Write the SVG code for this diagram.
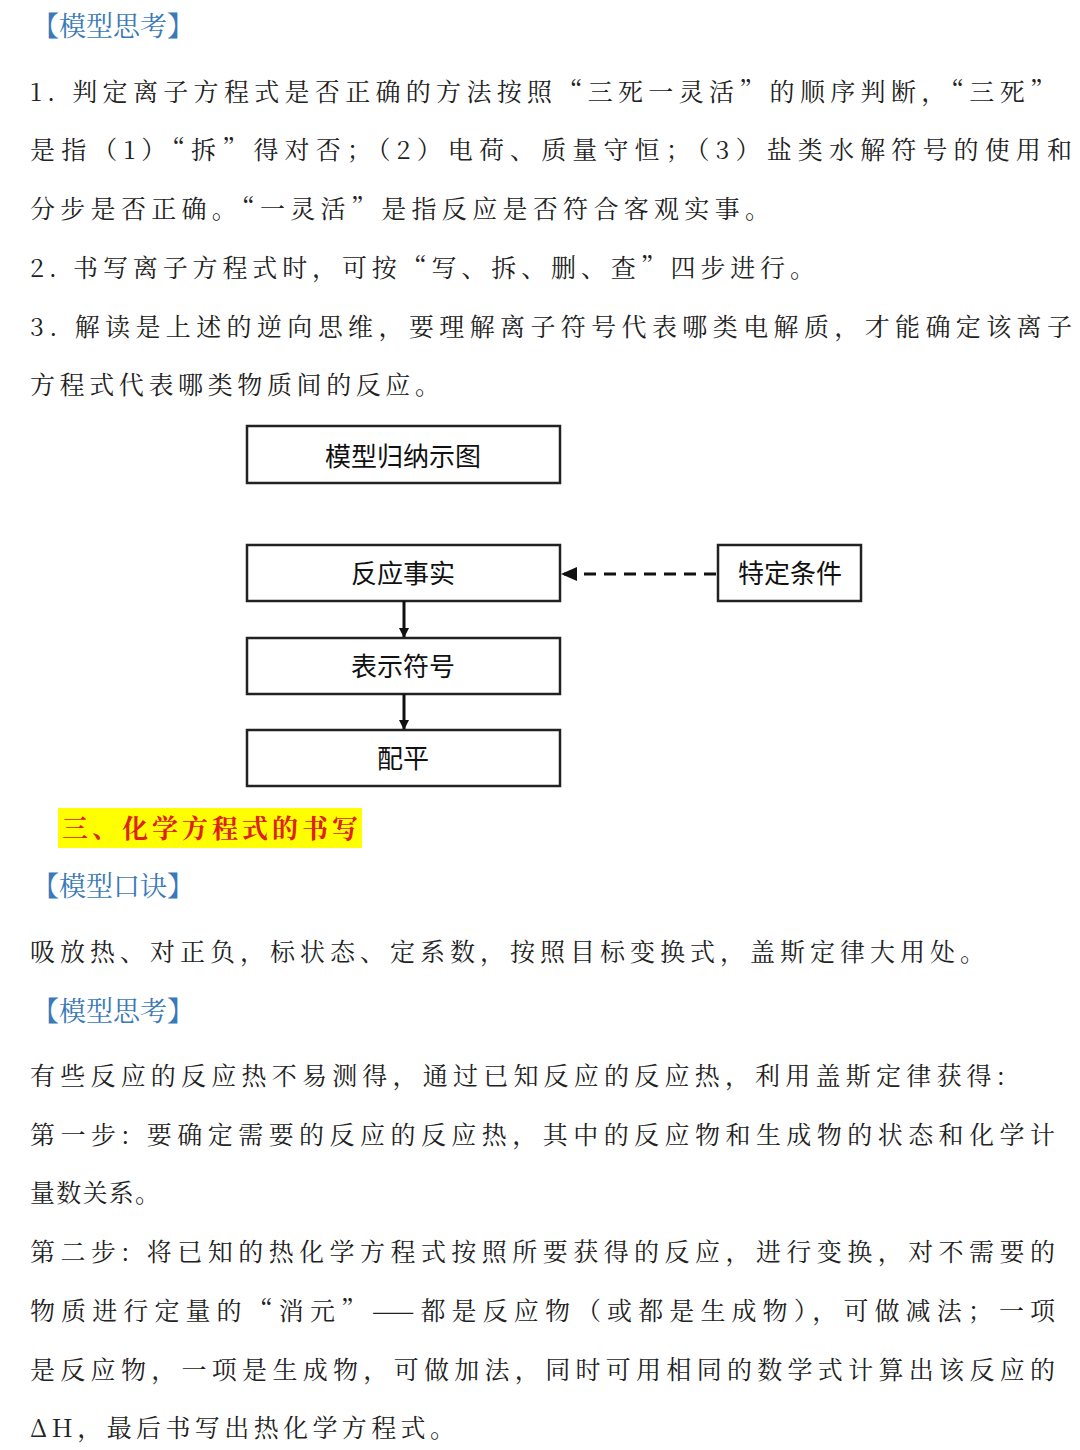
<svg xmlns="http://www.w3.org/2000/svg" width="1080" height="1450" viewBox="0 0 1080 1450">
<style>
.t{font-family:"Noto Serif CJK SC","Noto Sans CJK SC",serif;font-size:25px;fill:#222}
.h{font-family:"Noto Serif CJK SC","Noto Sans CJK SC",serif;font-size:27px;fill:#3a7ab8}
.b{fill:#fff;stroke:#222;stroke-width:2.5}
.n{font-family:"Noto Sans CJK SC",sans-serif;font-size:26px;fill:#111;text-anchor:middle}
</style>
<defs>
<marker id="a" markerWidth="10" markerHeight="10" refX="9" refY="5" orient="auto" markerUnits="userSpaceOnUse" viewBox="0 0 10 10"><path d="M0,0L10,5L0,10z" fill="#111"/></marker>
<marker id="b" markerWidth="16" markerHeight="14" refX="15" refY="7" orient="auto" markerUnits="userSpaceOnUse" viewBox="0 0 16 14"><path d="M0,0L16,7L0,14z" fill="#111"/></marker>
</defs>
<rect width="1080" height="1450" fill="#fff"/>
<text class="h" x="32" y="36">【模型思考】</text>
<text class="t" x="30" y="101" textLength="1025" lengthAdjust="spacing">1. 判定离子方程式是否正确的方法按照“三死一灵活”的顺序判断，“三死”</text>
<text class="t" x="30" y="159" textLength="1042" lengthAdjust="spacing">是指（1）“拆”得对否；（2）电荷、质量守恒；（3）盐类水解符号的使用和</text>
<text class="t" x="30" y="218" textLength="740" lengthAdjust="spacing">分步是否正确。“一灵活”是指反应是否符合客观实事。</text>
<text class="t" x="30" y="277" textLength="785" lengthAdjust="spacing">2. 书写离子方程式时，可按“写、拆、删、查”四步进行。</text>
<text class="t" x="30" y="336" textLength="1042" lengthAdjust="spacing">3. 解读是上述的逆向思维，要理解离子符号代表哪类电解质，才能确定该离子</text>
<text class="t" x="30" y="394" textLength="410" lengthAdjust="spacing">方程式代表哪类物质间的反应。</text>
<g id="title"><rect class="b" x="247" y="426" width="313" height="57"/><text class="n" x="403" y="466">模型归纳示图</text></g>
<g id="n1"><rect class="b" x="247" y="545" width="313" height="56"/><text class="n" x="403" y="583">反应事实</text></g>
<g id="n2"><rect class="b" x="247" y="638" width="313" height="56"/><text class="n" x="403" y="676">表示符号</text></g>
<g id="n3"><rect class="b" x="247" y="730" width="313" height="56"/><text class="n" x="403" y="768">配平</text></g>
<g id="n4"><rect class="b" x="718" y="545" width="143" height="56"/><text class="n" x="790" y="583">特定条件</text></g>
<g id="edges" stroke="#111" stroke-width="3" fill="none">
<line x1="404" y1="601" x2="404" y2="637" marker-end="url(#a)"/>
<line x1="404" y1="694" x2="404" y2="729" marker-end="url(#a)"/>
<line x1="716" y1="574" x2="562" y2="574" stroke-dasharray="12,8" marker-end="url(#b)"/>
</g>
<rect x="58" y="808" width="304" height="40" fill="#ffff00"/>
<text x="62" y="838" font-family="'Noto Serif CJK SC','Noto Sans CJK SC',serif" font-size="26" font-weight="bold" fill="#e0201a" textLength="296" lengthAdjust="spacing">三、化学方程式的书写</text>
<text class="h" x="32" y="896">【模型口诀】</text>
<text class="t" x="30" y="961" textLength="955" lengthAdjust="spacing">吸放热、对正负，标状态、定系数，按照目标变换式，盖斯定律大用处。</text>
<text class="h" x="32" y="1021">【模型思考】</text>
<text class="t" x="30" y="1085" textLength="975" lengthAdjust="spacing">有些反应的反应热不易测得，通过已知反应的反应热，利用盖斯定律获得:</text>
<text class="t" x="30" y="1144" textLength="1025" lengthAdjust="spacing">第一步: 要确定需要的反应的反应热，其中的反应物和生成物的状态和化学计</text>
<text class="t" x="30" y="1202" textLength="130" lengthAdjust="spacing">量数关系。</text>
<text class="t" x="30" y="1261" textLength="1025" lengthAdjust="spacing">第二步: 将已知的热化学方程式按照所要获得的反应，进行变换，对不需要的</text>
<text class="t" x="30" y="1320" textLength="1025" lengthAdjust="spacing">物质进行定量的“消元”——都是反应物（或都是生成物），可做减法；一项</text>
<text class="t" x="30" y="1379" textLength="1025" lengthAdjust="spacing">是反应物，一项是生成物，可做加法，同时可用相同的数学式计算出该反应的</text>
<text class="t" x="30" y="1437" textLength="425" lengthAdjust="spacing">ΔH，最后书写出热化学方程式。</text>
</svg>
